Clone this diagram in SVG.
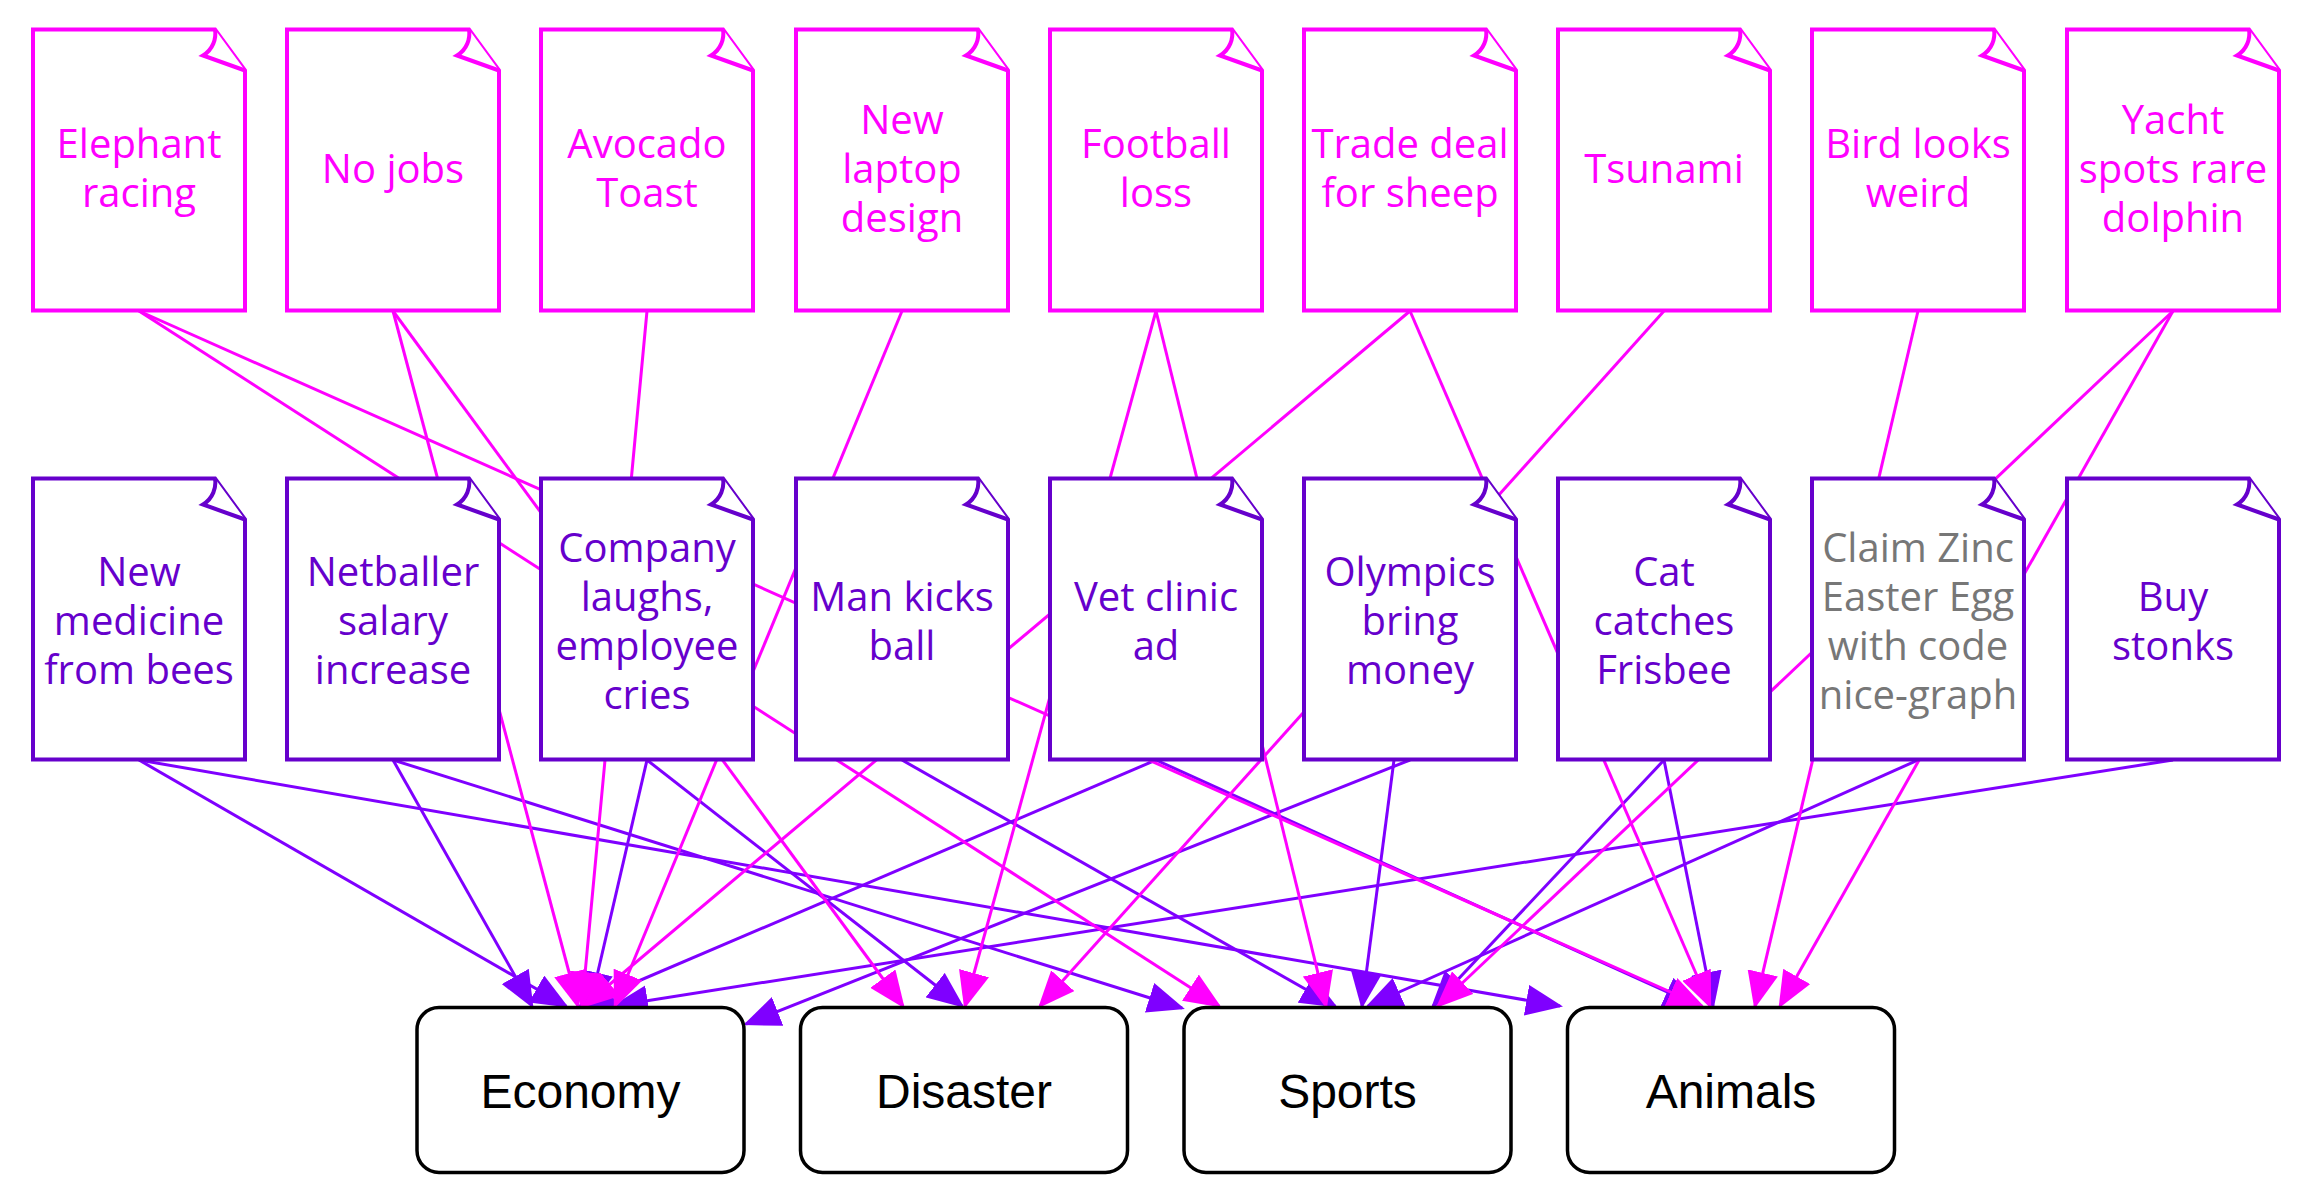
<svg xmlns="http://www.w3.org/2000/svg" xmlns:xlink="http://www.w3.org/1999/xlink" width="2312" height="1204" viewBox="0 0 2312 1204">
<style>
.doc use{fill:#fff;stroke-width:4;stroke-linejoin:miter}
.top use{stroke:#ff00ff}
.mid use{stroke:#6600cc}
.doc text{font-family:"Open Sans","Noto Sans",sans-serif;font-size:40px;text-anchor:middle}
.top text{fill:#ff00ff}
.mid text{fill:#6600cc}
.mid text.grey{fill:#777777}
.cat rect{fill:#fff;stroke:#000;stroke-width:3.5}
.cat text{font-family:"Liberation Sans",Arial,sans-serif;font-size:48px;fill:#000;text-anchor:middle}
.em{stroke:#ff00ff;stroke-width:3;fill:none;marker-end:url(#ahM)}
.ep{stroke:#7f00ff;stroke-width:3;fill:none;marker-end:url(#ahP)}
</style>
<defs>
<marker id="ahM" markerUnits="userSpaceOnUse" markerWidth="37" markerHeight="31" viewBox="0 0 37 31" refX="34" refY="15.5" orient="auto"><path d="M0,0 L37,15.5 L0,31 z" fill="#ff00ff"/></marker>
<marker id="ahP" markerUnits="userSpaceOnUse" markerWidth="37" markerHeight="31" viewBox="0 0 37 31" refX="34" refY="15.5" orient="auto"><path d="M0,0 L37,15.5 L0,31 z" fill="#7f00ff"/></marker>
<g id="docShape"><path d="M0,0 H182 L212,41 V281 H0 Z"/><path d="M182,0 C183.5,9 180,20 170,26 L212,41"/></g>
</defs>
<rect width="2312" height="1204" fill="#fff"/>
<g id="connectors">
<line class="ep" x1="139" y1="760" x2="566" y2="1006"/>
<line class="ep" x1="139" y1="760" x2="1560" y2="1006"/>
<line class="ep" x1="393" y1="760" x2="532" y2="1006"/>
<line class="ep" x1="393" y1="760" x2="1182" y2="1008"/>
<line class="ep" x1="647" y1="760" x2="590" y2="1006"/>
<line class="ep" x1="647" y1="760" x2="962" y2="1006"/>
<line class="ep" x1="902" y1="760" x2="1335" y2="1006"/>
<line class="ep" x1="1156" y1="760" x2="580" y2="1006"/>
<line class="ep" x1="1156" y1="760" x2="1698" y2="1006"/>
<line class="ep" x1="1410" y1="760" x2="746" y2="1024"/>
<line class="ep" x1="1394" y1="760" x2="1362" y2="1006"/>
<line class="ep" x1="1664" y1="760" x2="1433" y2="1006"/>
<line class="ep" x1="1664" y1="760" x2="1713" y2="1006"/>
<line class="ep" x1="1918" y1="760" x2="1368" y2="1006"/>
<line class="ep" x1="2173" y1="760" x2="614" y2="1006"/>
<line class="em" x1="139" y1="311" x2="1219" y2="1006"/>
<line class="em" x1="139" y1="311" x2="1702" y2="1006"/>
<line class="em" x1="393" y1="311" x2="578" y2="1006"/>
<line class="em" x1="393" y1="311" x2="903" y2="1006"/>
<line class="em" x1="647" y1="311" x2="582" y2="1006"/>
<line class="em" x1="902" y1="311" x2="615" y2="1006"/>
<line class="em" x1="1156" y1="311" x2="965" y2="1006"/>
<line class="em" x1="1156" y1="311" x2="1326" y2="1006"/>
<line class="em" x1="1410" y1="311" x2="584" y2="1006"/>
<line class="em" x1="1410" y1="311" x2="1710" y2="1006"/>
<line class="em" x1="1664" y1="311" x2="1040" y2="1006"/>
<line class="em" x1="1918" y1="311" x2="1755" y2="1006"/>
<line class="em" x1="2173" y1="311" x2="1438" y2="1006"/>
<line class="em" x1="2173" y1="311" x2="1780" y2="1006"/>
</g>
<g id="elephant" class="doc top" transform="translate(33,29.5)"><use href="#docShape"/><text><tspan x="106" y="128.5">Elephant</tspan><tspan x="106" y="177.5">racing</tspan></text></g>
<g id="nojobs" class="doc top" transform="translate(287,29.5)"><use href="#docShape"/><text><tspan x="106" y="153">No jobs</tspan></text></g>
<g id="avocado" class="doc top" transform="translate(541,29.5)"><use href="#docShape"/><text><tspan x="106" y="128.5">Avocado</tspan><tspan x="106" y="177.5">Toast</tspan></text></g>
<g id="laptop" class="doc top" transform="translate(796,29.5)"><use href="#docShape"/><text><tspan x="106" y="104">New</tspan><tspan x="106" y="153">laptop</tspan><tspan x="106" y="202">design</tspan></text></g>
<g id="football" class="doc top" transform="translate(1050,29.5)"><use href="#docShape"/><text><tspan x="106" y="128.5">Football</tspan><tspan x="106" y="177.5">loss</tspan></text></g>
<g id="trade" class="doc top" transform="translate(1304,29.5)"><use href="#docShape"/><text><tspan x="106" y="128.5">Trade deal</tspan><tspan x="106" y="177.5">for sheep</tspan></text></g>
<g id="tsunami" class="doc top" transform="translate(1558,29.5)"><use href="#docShape"/><text><tspan x="106" y="153">Tsunami</tspan></text></g>
<g id="bird" class="doc top" transform="translate(1812,29.5)"><use href="#docShape"/><text><tspan x="106" y="128.5">Bird looks</tspan><tspan x="106" y="177.5">weird</tspan></text></g>
<g id="yacht" class="doc top" transform="translate(2067,29.5)"><use href="#docShape"/><text><tspan x="106" y="104">Yacht</tspan><tspan x="106" y="153">spots rare</tspan><tspan x="106" y="202">dolphin</tspan></text></g>
<g id="medicine" class="doc mid" transform="translate(33,478.5)"><use href="#docShape"/><text><tspan x="106" y="107.5">New</tspan><tspan x="106" y="156.5">medicine</tspan><tspan x="106" y="205.5">from bees</tspan></text></g>
<g id="netballer" class="doc mid" transform="translate(287,478.5)"><use href="#docShape"/><text><tspan x="106" y="107.5">Netballer</tspan><tspan x="106" y="156.5">salary</tspan><tspan x="106" y="205.5">increase</tspan></text></g>
<g id="company" class="doc mid" transform="translate(541,478.5)"><use href="#docShape"/><text><tspan x="106" y="83">Company</tspan><tspan x="106" y="132">laughs,</tspan><tspan x="106" y="181">employee</tspan><tspan x="106" y="230">cries</tspan></text></g>
<g id="mankicks" class="doc mid" transform="translate(796,478.5)"><use href="#docShape"/><text><tspan x="106" y="132">Man kicks</tspan><tspan x="106" y="181">ball</tspan></text></g>
<g id="vet" class="doc mid" transform="translate(1050,478.5)"><use href="#docShape"/><text><tspan x="106" y="132">Vet clinic</tspan><tspan x="106" y="181">ad</tspan></text></g>
<g id="olympics" class="doc mid" transform="translate(1304,478.5)"><use href="#docShape"/><text><tspan x="106" y="107.5">Olympics</tspan><tspan x="106" y="156.5">bring</tspan><tspan x="106" y="205.5">money</tspan></text></g>
<g id="cat" class="doc mid" transform="translate(1558,478.5)"><use href="#docShape"/><text><tspan x="106" y="107.5">Cat</tspan><tspan x="106" y="156.5">catches</tspan><tspan x="106" y="205.5">Frisbee</tspan></text></g>
<g id="zinc" class="doc mid" transform="translate(1812,478.5)"><use href="#docShape"/><text class="grey"><tspan x="106" y="83">Claim Zinc</tspan><tspan x="106" y="132">Easter Egg</tspan><tspan x="106" y="181">with code</tspan><tspan x="106" y="230">nice-graph</tspan></text></g>
<g id="stonks" class="doc mid" transform="translate(2067,478.5)"><use href="#docShape"/><text><tspan x="106" y="132">Buy</tspan><tspan x="106" y="181">stonks</tspan></text></g>
<g id="economy" class="cat"><rect x="417" y="1007.5" width="327" height="165" rx="22"/><text x="580.5" y="1108">Economy</text></g>
<g id="disaster" class="cat"><rect x="800.5" y="1007.5" width="327" height="165" rx="22"/><text x="964" y="1108">Disaster</text></g>
<g id="sports" class="cat"><rect x="1184" y="1007.5" width="327" height="165" rx="22"/><text x="1347.5" y="1108">Sports</text></g>
<g id="animals" class="cat"><rect x="1567.5" y="1007.5" width="327" height="165" rx="22"/><text x="1731" y="1108">Animals</text></g>
</svg>
